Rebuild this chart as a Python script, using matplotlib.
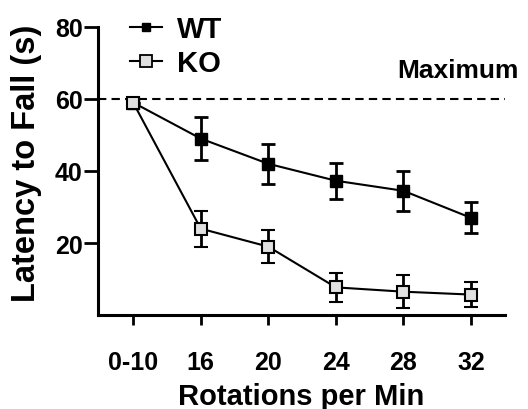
import numpy as np
import matplotlib.pyplot as plt
from matplotlib.lines import Line2D

rpm_labels = ["0-10", "16", "20", "24", "28", "32"]
wt_mean = [59.0, 49.0, 42.0, 37.3, 34.5, 27.0]
wt_err = [0.0, 6.0, 5.5, 5.0, 5.5, 4.3]
ko_mean = [59.0, 24.0, 19.0, 7.7, 6.5, 5.7]
ko_err = [0.0, 5.0, 4.5, 4.0, 4.5, 3.5]
max_latency = 60

plt.rcParams['font.family'] = ['Liberation Sans', 'DejaVu Sans']
plt.rcParams['font.weight'] = 'bold'

fig = plt.figure(figsize=(5.28, 4.10), dpi=100)
ax = fig.add_axes([0.1856, 0.229, 0.7705, 0.703])

x = np.arange(len(rpm_labels))
ax.axhline(max_latency, color='black', linestyle=(0, (4, 2.5)), linewidth=1.5, zorder=1)
ax.errorbar(x, wt_mean, yerr=wt_err, color='black', marker='s', markersize=8,
            markerfacecolor='black', markeredgecolor='black', linewidth=1.5,
            elinewidth=2, capsize=5, capthick=2, zorder=3)
ax.errorbar(x, ko_mean, yerr=ko_err, color='black', marker='s', markersize=9,
            markerfacecolor='#e0e0e0', markeredgecolor='black', markeredgewidth=1.5,
            linewidth=1.5, elinewidth=2, capsize=5, capthick=2, zorder=4)

fig.text(0.983, 1 - 71 / 410, "Maximum", ha='right', va='center',
         fontsize=19, fontweight='bold')

ax.set_xlim(-0.52, 5.5)
ax.set_ylim(0, 80)
ax.set_xticks(x)
ax.set_xticklabels(rpm_labels)
ax.set_yticks([20, 40, 60, 80])
ax.tick_params(axis='x', labelsize=18, width=2, length=7, pad=18)
ax.tick_params(axis='y', labelsize=18, width=2, length=10, pad=1)
for lbl in ax.get_xticklabels() + ax.get_yticklabels():
    lbl.set_fontweight('bold')
ax.spines['top'].set_visible(False)
ax.spines['right'].set_visible(False)
ax.spines['left'].set_linewidth(2.2)
ax.spines['bottom'].set_linewidth(2.2)

ax.set_xlabel("Rotations per Min", fontsize=21, fontweight='bold')
ax.xaxis.set_label_coords(0.5, -0.233)
ax.set_ylabel("Latency to Fall (s)", fontsize=23.5, fontweight='bold')
ax.yaxis.set_label_coords(-0.138, 0.53)

handles = [
    Line2D([], [], color='black', linewidth=1.5, marker='s', markersize=6,
           markerfacecolor='black', markeredgecolor='black'),
    Line2D([], [], color='black', linewidth=1.5, marker='s', markersize=8,
           markerfacecolor='#e0e0e0', markeredgecolor='black', markeredgewidth=1.3),
]
ax.legend(handles, ["WT", "KO"], loc='upper left', bbox_to_anchor=(0.015, 1.132),
          frameon=False, handlelength=1.1, handletextpad=0.5, labelspacing=0.2,
          prop={'weight': 'bold', 'size': 21})

plt.savefig("out.png", dpi=100)
